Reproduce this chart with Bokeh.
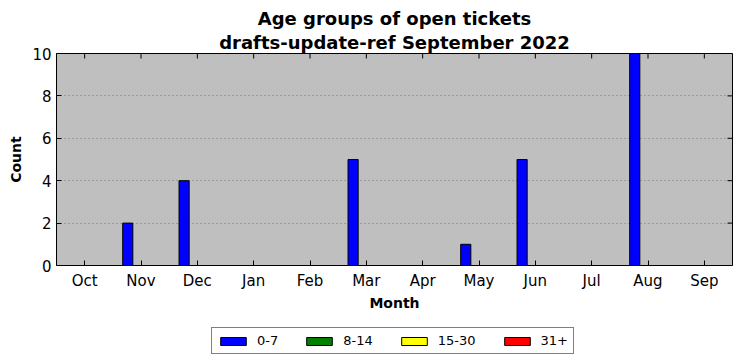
import math
from bokeh.plotting import figure
from bokeh.layouts import column
from bokeh.models import (ColumnDataSource, Legend, LegendItem, Title, FactorRange, Range1d,
                          SingleIntervalTicker)
from bokeh.transform import dodge
from bokeh.embed import file_html
from bokeh.resources import INLINE

months = ["Oct", "Nov", "Dec", "Jan", "Feb", "Mar", "Apr", "May", "Jun", "Jul", "Aug", "Sep"]
age_0_7 = [0, 2, 4, 0, 0, 5, 0, 1, 5, 0, 10, 0]
age_8_14 = [0, 0, 0, 0, 0, 0, 0, 0, 0, 0, 0, 0]
age_15_30 = [0, 0, 0, 0, 0, 0, 0, 0, 0, 0, 0, 0]
age_31_plus = [0, 0, 0, 0, 0, 0, 0, 0, 0, 0, 0, 0]
y_ticks = [0, 2, 4, 6, 8, 10]
series_names = ["0-7", "8-14", "15-30", "31+"]
series_colors = ["#0000ff", "#008000", "#ffff00", "#ff0000"]
title_line1 = "Age groups of open tickets"
title_line2 = "drafts-update-ref September 2022"

FONT = "DejaVu Sans"

source = ColumnDataSource(dict(month=months, a=age_0_7, b=age_8_14, c=age_15_30, d=age_31_plus))
offsets = [-0.235, -0.045, 0.145, 0.335]
cols = ["a", "b", "c", "d"]

p = figure(x_range=FactorRange(*months, range_padding=0), y_range=Range1d(0, 10),
           width=741, height=318, output_backend="svg", toolbar_location=None,
           title=None, min_border_left=56, min_border_right=9, min_border_top=53,
           min_border_bottom=53)

p.background_fill_color = "#bfbfbf"
p.border_fill_color = "white"
p.outline_line_color = "black"
p.outline_line_width = 1

for col, off, color in zip(cols, offsets, series_colors):
    p.vbar(x=dodge("month", off, range=p.x_range), top=col, width=0.18, source=source,
           fill_color=color, line_color="black", line_width=1)

# inward ticks on top and right edges (half of each dash is clipped by the frame)
p.scatter(x=months, y=[10] * len(months), marker="dash", angle=math.pi / 2, size=10,
          line_color="black", line_width=1)
tick_src = ColumnDataSource(dict(m=["Sep"] * len(y_ticks), y=y_ticks))
p.scatter(x=dodge("m", 0.5, range=p.x_range), y="y", source=tick_src, marker="dash",
          size=10, line_color="black", line_width=1)

for ax in [p.xaxis[0], p.yaxis[0]]:
    ax.major_tick_in = 5
    ax.major_tick_out = 0
    ax.minor_tick_in = 0
    ax.minor_tick_out = 0
    ax.axis_line_color = None
    ax.major_label_text_font = FONT
    ax.major_label_text_font_size = "15px"
    ax.major_label_text_color = "black"
    ax.axis_label_text_font = FONT
    ax.axis_label_text_font_size = "14px"
    ax.axis_label_text_font_style = "bold"
    ax.axis_label_text_color = "black"
    ax.major_tick_line_color = "black"

p.yaxis[0].ticker = SingleIntervalTicker(interval=2)
p.xaxis[0].axis_label = "Month"
p.yaxis[0].axis_label = "Count"
p.xaxis[0].major_label_standoff = 6
p.yaxis[0].major_label_standoff = 5
p.xaxis[0].axis_label_standoff = 2
p.yaxis[0].axis_label_standoff = 5

p.xgrid.grid_line_color = None
p.ygrid.grid_line_color = "#777777"
p.ygrid.grid_line_dash = "1 3"
p.ygrid.grid_line_width = 1
p.ygrid.ticker = p.yaxis[0].ticker

t2 = Title(text=title_line2, align="center", text_font=FONT, text_font_size="18px",
           text_font_style="bold", text_color="black", standoff=2)
t1 = Title(text=title_line1, align="center", text_font=FONT, text_font_size="18px",
           text_font_style="bold", text_color="black", standoff=0)
p.add_layout(t2, "above")
p.add_layout(t1, "above")

# legend in its own strip below the chart (same series, hidden renderers there)
lg = figure(x_range=FactorRange(*months, range_padding=0), y_range=Range1d(0, 10),
            width=741, height=43, output_backend="svg", toolbar_location=None,
            x_axis_type=None, y_axis_type=None, title=None,
            min_border_left=0, min_border_right=0, min_border_top=0, min_border_bottom=0)
lg.outline_line_color = None
lg.xgrid.visible = False
lg.ygrid.visible = False
leg_renderers = []
for col, off, color in zip(cols, offsets, series_colors):
    r = lg.vbar(x=dodge("month", off, range=lg.x_range), top=col, width=0.18,
                source=source, fill_color=color, line_color="black", line_width=1)
    r.visible = False
    leg_renderers.append(r)
items = [LegendItem(label=n, renderers=[r]) for n, r in zip(series_names, leg_renderers)]
legend = Legend(items=items, orientation="horizontal", location=(155, 7),
                glyph_width=32, glyph_height=10, label_height=12,
                label_text_font=FONT, label_text_font_size="13px", label_text_color="black",
                label_standoff=8, spacing=25, padding=5, border_line_color="black",
                border_line_width=1, background_fill_alpha=1, margin=0,
                click_policy="none", inactive_fill_alpha=0)
lg.add_layout(legend)

layout = column(p, lg, spacing=0)
open("out.html", "w").write(file_html(layout, INLINE))
